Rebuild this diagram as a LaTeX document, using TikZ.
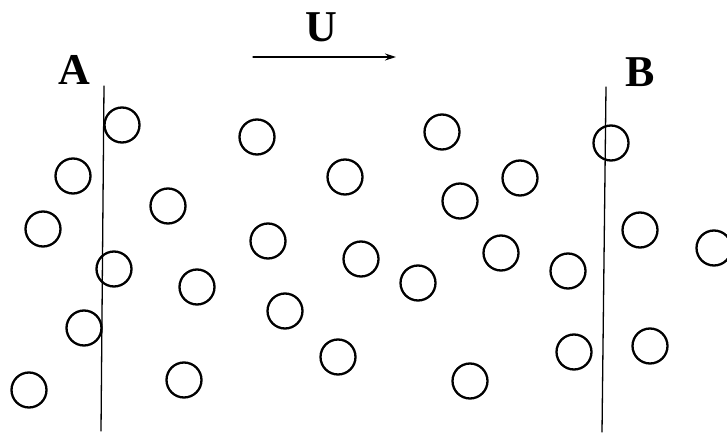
\documentclass[tikz,border=0pt]{standalone}
\usepackage{fontspec}
\setmainfont{Liberation Serif}
\usetikzlibrary{arrows.meta}
\tikzset{
  particle/.style={circle, draw, line width=2.3pt, minimum size=35pt, inner sep=0pt},
  wall/.style={line width=1.3pt},
  label/.style={font=\fontsize{44}{48}\selectfont\bfseries, inner sep=0pt}
}
\begin{document}
\begin{tikzpicture}[x=1pt, y=-1pt, line join=round, line cap=round]
				\useasboundingbox (0,0) rectangle (727,435);
				
				\coordinate (At) at (104,86);
				\coordinate (Ab) at (101,431);
				\coordinate (Bt) at (606,87);
				\coordinate (Bb) at (602,432);
				\coordinate (Us) at (253,57);
				\coordinate (Ue) at (396,57);
				
				\draw[wall] (At) -- (Ab);
				\draw[wall] (Bt) -- (Bb);
				\draw[wall, -{Stealth[length=11pt, width=7pt]}] (Us) -- (Ue);
				
				\node[label] (A) at (74,70) {A};
				\node[label] (B) at (640,72) {B};
				\node[label] (U) at (321,27) {U};
				
				\foreach \x/\y [count=\i] in {122/125, 73/176, 43/229, 114/269, 84/328, 29/390,
				                   168/206, 257/137, 197/287, 184/380, 268/241, 285/311,
				                   345/177, 338/357, 361/259, 442/132, 520/178, 460/201,
				                   501/253, 418/283, 568/271, 611/143, 640/230, 714/248,
				                   574/352, 650/346, 470/381}
				  \node[particle] (p\i) at (\x,\y) {};
			\end{tikzpicture}
\end{document}
